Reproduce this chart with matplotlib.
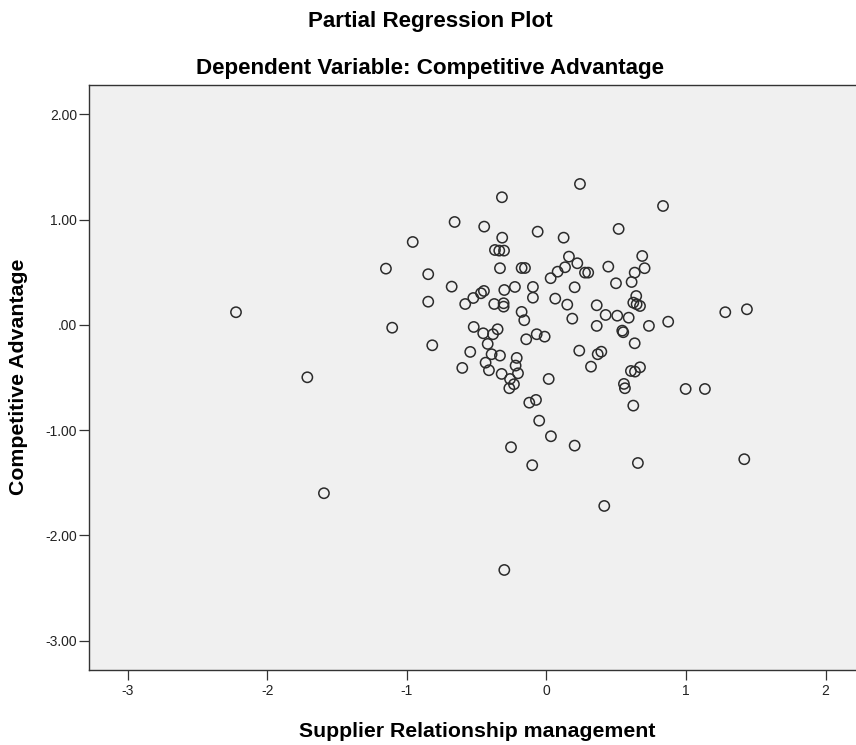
import matplotlib
matplotlib.use("Agg")
import matplotlib.pyplot as plt
from matplotlib import font_manager

# partial regression residuals
supplier_rel = [
    -2.224, -1.713, -1.594, -0.319, -0.658, -0.446, -0.063, -0.958, -0.317, -0.369,
    -0.338, -0.304, -1.150, -0.333, -0.178, -0.154, -0.847, -0.679, -0.448, -0.469,
    -0.524, -0.582, -0.302, -0.226, -0.097, -0.097, -0.374, -0.307, -0.307, -0.847,
    -0.178, -0.159, -1.105, -0.521, -0.453, -0.350, -0.383, -0.070, -0.145, -0.818,
    -0.421, -0.546, -0.393, -0.333, -0.213, -0.603, -0.436, -0.412, -0.321, -0.221,
    -0.204, -0.261, -0.233, -0.266, -0.123, -0.075, -0.052, -0.254, -0.102, 0.240,
    0.835, 0.123, 0.517, 0.161, 0.221, 0.133, 0.080, 0.030, 0.276, 0.299,
    0.686, 0.703, 0.632, 0.443, 0.498, 0.610, 0.202, 0.063, 0.149, 0.185,
    0.360, 0.424, 0.507, 0.589, 0.643, 0.622, 0.646, 0.670, 0.360, 0.734,
    0.872, 0.543, 0.550, 0.632, -0.013, 0.235, 0.367, 0.393, 0.319, 0.670,
    0.634, 0.605, 0.555, 0.562, 0.622, 0.016, 0.032, 0.202, 0.655, 0.997,
    1.135, 1.281, 1.436, 1.417, 0.414, -0.302,
]
competitive_adv = [
    0.120, -0.498, -1.599, 1.212, 0.977, 0.933, 0.885, 0.787, 0.828, 0.711,
    0.705, 0.705, 0.534, 0.538, 0.540, 0.540, 0.481, 0.363, 0.322, 0.300,
    0.255, 0.198, 0.331, 0.360, 0.360, 0.258, 0.198, 0.205, 0.173, 0.220,
    0.123, 0.044, -0.027, -0.020, -0.080, -0.042, -0.089, -0.089, -0.137, -0.194,
    -0.181, -0.257, -0.279, -0.292, -0.314, -0.409, -0.359, -0.431, -0.466, -0.387,
    -0.460, -0.514, -0.564, -0.602, -0.739, -0.713, -0.910, -1.162, -1.333, 1.338,
    1.129, 0.828, 0.911, 0.648, 0.585, 0.547, 0.505, 0.443, 0.496, 0.496,
    0.654, 0.538, 0.496, 0.553, 0.395, 0.407, 0.357, 0.249, 0.192, 0.059,
    0.186, 0.094, 0.087, 0.068, 0.274, 0.211, 0.196, 0.179, -0.010, -0.010,
    0.030, -0.055, -0.070, -0.175, -0.112, -0.245, -0.279, -0.255, -0.397, -0.403,
    -0.444, -0.438, -0.561, -0.602, -0.767, -0.514, -1.058, -1.147, -1.312, -0.609,
    -0.609, 0.120, 0.148, -1.276, -1.720, -2.328,
]

x_ticks = [-3, -2, -1, 0, 1, 2]
y_ticks = [2, 1, 0, -1, -2, -3]
y_tick_labels = ["2.00", "1.00", ".00", "-1.00", "-2.00", "-3.00"]

# narrow bold font like the SPSS output, if we have one
names = {f.name for f in font_manager.fontManager.ttflist}
if "Liberation Sans Narrow" in names:
    bold_font = "Liberation Sans Narrow"
    k = 1.0
else:
    bold_font = "Liberation Sans"
    k = 0.85

W, H = 856, 745
fig = plt.figure(figsize=(W / 100, H / 100), dpi=100)
fig.patch.set_facecolor("white")

ax = fig.add_axes([89 / W, 1 - 670 / H, (866 - 89) / W, (670 - 85) / H])
ax.set_facecolor("#f0f0f0")

ax.scatter(supplier_rel, competitive_adv, s=55, facecolors="none",
           edgecolors="#2b2b2b", linewidths=1.1, zorder=3)

ax.set_xlim(-3.277, 2.289)
ax.set_ylim(-3.278, 2.278)
ax.set_xticks(x_ticks)
ax.set_xticklabels([str(t) for t in x_ticks])
ax.set_yticks(y_ticks)
ax.set_yticklabels(y_tick_labels)

for lab in ax.get_xticklabels() + ax.get_yticklabels():
    lab.set_fontfamily("Liberation Sans")
    lab.set_fontsize(10)
    lab.set_color("#222222")

ax.tick_params(axis="both", direction="out", length=7, width=0.9, color="#333333")
ax.tick_params(axis="x", pad=3)
ax.tick_params(axis="y", pad=1.5)

for side in ["left", "bottom", "top"]:
    ax.spines[side].set_color("#333333")
    ax.spines[side].set_linewidth(1.0)
ax.spines["right"].set_visible(False)

fig.text(430 / W, 1 - 27 / H, "Partial Regression Plot", ha="center", va="baseline",
         fontsize=19 * k, fontweight="bold", family=[bold_font, "DejaVu Sans"])
fig.text(430 / W, 1 - 74 / H, "Dependent Variable: Competitive Advantage",
         ha="center", va="baseline",
         fontsize=19 * k, fontweight="bold", family=[bold_font, "DejaVu Sans"])
fig.text(477 / W, 1 - 737 / H, "Supplier Relationship management", ha="center",
         va="baseline", fontsize=18 * k, fontweight="bold",
         family=[bold_font, "DejaVu Sans"])
fig.text(19 / W, 1 - 377 / H, "Competitive Advantage", ha="center", va="center",
         rotation=90, fontsize=18 * k, fontweight="bold",
         family=[bold_font, "DejaVu Sans"])

fig.savefig("out.png", dpi=100)
